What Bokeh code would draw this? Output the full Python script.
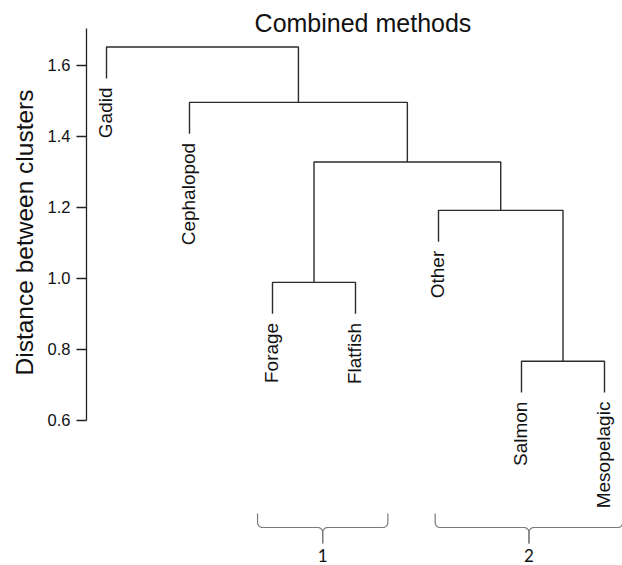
import numpy as np
from bokeh.plotting import figure
from bokeh.models import Range1d, FixedTicker, ColumnDataSource, Title
from bokeh.core.properties import value
from bokeh.embed import file_html
from bokeh.resources import INLINE

# ---------------- data ----------------
leaf_labels = ["Gadid", "Cephalopod", "Forage", "Flatfish", "Other", "Salmon", "Mesopelagic"]
# R-style merge table: negative = leaf (1-based index in leaf order), positive = earlier merge (1-based)
merge_left = [-3, -6, -5, 1, -2, -1]
merge_right = [-4, -7, 2, 3, 4, 5]
merge_height = [0.989, 0.767, 1.192, 1.328, 1.496, 1.652]

tick_values = [0.6, 0.8, 1.0, 1.2, 1.4, 1.6]
tick_labels = ["0.6", "0.8", "1.0", "1.2", "1.4", "1.6"]

cluster_names = ["1", "2"]
cluster_start = [2.82, 4.96]
cluster_end = [4.39, 7.22]

title_text = "Combined methods"
y_label = "Distance between clusters"

# ---------------- layout ----------------
FONT = "Liberation Sans"
p = figure(width=622, height=565,
           x_range=Range1d(0.759, 7.217), y_range=Range1d(0.1915, 1.7831),
           output_backend="svg", toolbar_location=None,
           x_axis_location=None, y_axis_location="left",
           min_border_left=86, min_border_right=0, min_border_top=0, min_border_bottom=0)
p.outline_line_color = None
p.grid.visible = False
p.background_fill_color = "white"
p.border_fill_color = "white"

ax = p.yaxis[0]
ax.ticker = FixedTicker(ticks=tick_values)
ax.major_label_overrides = {t: l for t, l in zip(tick_values, tick_labels)}
ax.bounds = (0.6, 1.704)
ax.major_tick_out = 10
ax.major_tick_in = 0
ax.minor_tick_line_color = None
ax.axis_line_color = "#222222"
ax.major_tick_line_color = "#222222"
ax.axis_line_width = 1.3
ax.major_tick_line_width = 1.3
ax.major_label_standoff = 6
ax.major_label_text_font = FONT
ax.major_label_text_font_size = "16.5px"
ax.major_label_text_color = "#111111"

# axis title: a left-side title, shifted up as in the reference
p.add_layout(Title(text=y_label, align="left", offset=190, standoff=13, vertical_align="bottom",
                   text_font=FONT, text_font_size="24.5px", text_font_style="normal",
                   text_color="#111111"), "left")

# ---------------- dendrogram geometry ----------------
hang = 0.1 * (max(merge_height) - min(merge_height))
node_x = []
xs, ys = [], []
leaf_end = {}
for k, (a, b) in enumerate(zip(merge_left, merge_right)):
    h = merge_height[k]
    pts = []
    for c in (a, b):
        if c < 0:
            cx = float(-c)
            ctop = h - hang
            leaf_end[-c] = ctop
        else:
            cx = node_x[c - 1]
            ctop = merge_height[c - 1]
        pts.append((cx, ctop))
    node_x.append((pts[0][0] + pts[1][0]) / 2)
    xs.append([pts[0][0], pts[0][0], pts[1][0], pts[1][0]])
    ys.append([pts[0][1], h, h, pts[1][1]])

p.multi_line(xs=xs, ys=ys, line_color="#2b2b2b", line_width=1.4)

leaf_src = ColumnDataSource(dict(
    x=[float(i + 1) for i in range(len(leaf_labels))],
    y=[leaf_end[i + 1] for i in range(len(leaf_labels))],
    text=leaf_labels))
p.text(x="x", y="y", text="text", source=leaf_src, angle=np.pi / 2,
       text_align="right", text_baseline="middle", y_offset=9, x_offset=-1,
       text_font=value(FONT), text_font_size="19px", text_color="#111111")

# ---------------- cluster braces ----------------
y0, y1, y2 = 0.338, 0.2986, 0.2535
rx, ry = 0.06, 0.014
bx, by = [], []
for s, e in zip(cluster_start, cluster_end):
    t = (s + e) / 2
    a1 = np.linspace(np.pi, 1.5 * np.pi, 8)
    a2 = np.linspace(0.5 * np.pi, 0.0, 8)
    lx = [s] + list(s + rx + rx * np.cos(a1)) + list(t - rx + rx * np.cos(a2)) + [t]
    ly = [y0] + list(y1 + ry + ry * np.sin(a1)) + list(y1 - ry + ry * np.sin(a2)) + [y2]
    bx.append(lx); by.append(ly)
    a3 = np.linspace(0.0, -0.5 * np.pi, 8)
    a4 = np.linspace(0.5 * np.pi, np.pi, 8)
    rxs = [e] + list(e - rx + rx * np.cos(a3)) + list(t + rx + rx * np.cos(a4)) + [t]
    rys = [y0] + list(y1 + ry + ry * np.sin(a3)) + list(y1 - ry + ry * np.sin(a4)) + [y2]
    bx.append(rxs); by.append(rys)
p.multi_line(xs=bx, ys=by, line_color="#7a7a7a", line_width=1.2)

p.text(x=[(s + e) / 2 for s, e in zip(cluster_start, cluster_end)], y=[0.219] * len(cluster_names),
       text=cluster_names, text_align="center", text_baseline="middle",
       text_font=value("Lato"), text_font_size="17px", text_color="#111111")

# ---------------- title ----------------
p.text(x=[4.09], y=[1.7197], text=[title_text], text_align="center", text_baseline="middle",
       text_font=value(FONT), text_font_size="25px", text_color="#111111")

open("out.html", "w").write(file_html(p, INLINE))
